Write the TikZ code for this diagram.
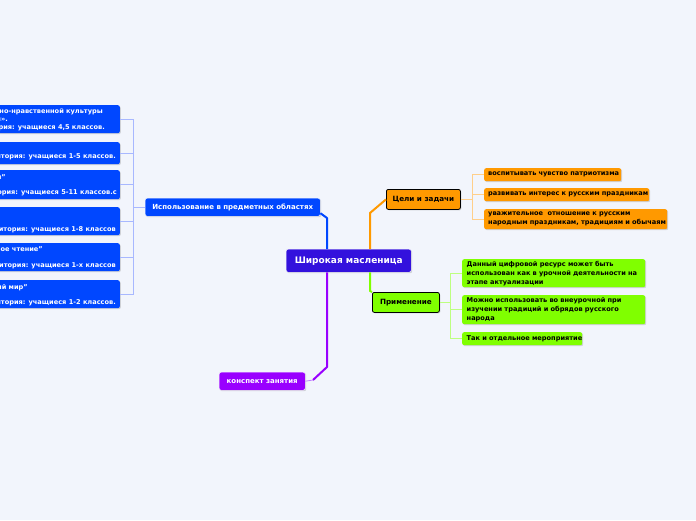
\documentclass[tikz,border=0pt]{standalone}
\usepackage{fontspec}
\setmainfont{DejaVu Sans}
\usetikzlibrary{shadows}
\newcommand\myln[1]{\mbox{#1}}
\definecolor{bgc}{HTML}{F2F5FC}
\definecolor{cmain}{HTML}{3311DD}
\definecolor{cblue}{HTML}{0047FF}
\definecolor{cblueL}{HTML}{A8B8FF}
\definecolor{corange}{HTML}{FF9900}
\definecolor{corangeL}{HTML}{FFCF8A}
\definecolor{cgreen}{HTML}{80FF00}
\definecolor{cgreenL}{HTML}{BDFF80}
\definecolor{cpurple}{HTML}{9900FF}
\definecolor{cpurpleL}{HTML}{C27FFF}
\tikzset{
  shad/.style={drop shadow={opacity=0.3,shadow xshift=1pt,shadow yshift=-1pt}},
  bx/.style={rounded corners=2pt, anchor=north west, inner ysep=0pt, inner xsep=4.5pt, align=left, shad,
    font=\bfseries\fontsize{6.6}{9}\selectfont},
  obx/.style={bx, fill=corange, inner xsep=4pt, font=\bfseries\fontsize{6.6}{9}\selectfont},
  gbx/.style={bx, fill=cgreen},
  topic/.style={rounded corners=2pt, anchor=north west, inner sep=0pt, align=center, shad,
    font=\bfseries\fontsize{7}{8}\selectfont},
  lbox/.style={rounded corners=2pt, anchor=north east, inner sep=0pt, fill=cblue, minimum width=250pt, shad},
  frag/.style={anchor=base east, inner sep=0pt, text=white, font=\bfseries\fontsize{6.6}{8}\selectfont},
  mainline/.style={line width=2pt, line join=round},
  subline/.style={line width=0.8pt},
}
\begin{document}
\begin{tikzpicture}[x=1pt,y=-1pt]
\useasboundingbox (0,0) rectangle (696,520);
\fill[bgc] (0,0) rectangle (696,520);
\clip (0,0) rectangle (696,520);

% central
\node[topic, fill=cmain, draw=white, text=white, minimum width=125pt, minimum height=23pt,
  font=\bfseries\fontsize{9}{11}\selectfont] (central) at (286,249) {Широкая масленица};

% main topics
\node[topic, fill=corange, draw=black, line width=0.8pt, minimum width=74pt, minimum height=20pt,
  font=\bfseries\fontsize{7.2}{8}\selectfont] (cel) at (386,189) {Цели и задачи};
\node[topic, fill=cgreen, draw=black, line width=0.8pt, minimum width=67pt, minimum height=20pt,
  font=\bfseries\fontsize{7.2}{8}\selectfont] (prim) at (372,292) {Применение};
\node[topic, fill=cblue, draw=white, text=white, minimum width=175pt, minimum height=18pt] (blue) at (145,198) {Использование в предметных областях};
\node[topic, fill=cpurple, draw=white, text=white, minimum width=86pt, minimum height=18pt] (purp) at (219,372) {конспект занятия};

% orange children
\node[obx, text width=129pt, minimum height=13pt] (o1) at (484,168) {\myln{воспитывать чувство патриотизма}};
\node[obx, text width=157pt, minimum height=13pt] (o2) at (484,188) {\myln{развивать интерес к русским праздникам}};
\node[obx, text width=175pt, minimum height=20pt] (o3) at (484,209) {\myln{уважительное\ \ отношение к русским}\\\myln{народным праздникам, традициям и обычаям}};

% green children
\node[gbx, text width=174pt, minimum height=28pt] (g1) at (462,259) {\myln{Данный цифровой ресурс может быть}\\\myln{использован как в урочной деятельности на}\\\myln{этапе актуализации}};
\node[gbx, text width=174pt, minimum height=29pt] (g2) at (462,295) {\myln{Можно использовать во внеурочной при}\\\myln{изучении традиций и обрядов русского}\\\myln{народа}};
\node[gbx, text width=111pt, minimum height=13pt] (g3) at (462,332) {\myln{Так и отдельное мероприятие}};

% left blue children
\node[lbox, minimum height=28pt] (b1) at (120,105) {};
\node[lbox, minimum height=22pt] (b2) at (120,142) {};
\node[lbox, minimum height=29pt] (b3) at (120,170) {};
\node[lbox, minimum height=28pt] (b4) at (120,207) {};
\node[lbox, minimum height=28pt] (b5) at (120,243) {};
\node[lbox, minimum height=28pt] (b6) at (120,280) {};

\node[frag] (b1a) at (103,113.5) {но-нравственной культуры};
\node[frag] (b1b) at (8,121.5) {и».};
\node[frag] (b1c) at (105,129.5) {ория: учащиеся 4,5 классов.};
\node[frag] (b2a) at (116,158.5) {итория: учащиеся 1-5 классов.};
\node[frag] (b3a) at (6,179.5) {ни"};
\node[frag] (b3b) at (117,194.5) {ория: учащиеся 5-11 классов.с};
\node[frag] (b4a) at (116,231.5) {дитория: учащиеся 1-8 классов};
\node[frag] (b5a) at (43,251.5) {ное чтение"};
\node[frag] (b5b) at (116,267.5) {дитория: учащиеся 1-х классов};
\node[frag] (b6a) at (28,289.5) {ий мир"};
\node[frag] (b6b) at (116,304.5) {итория: учащиеся 1-2 классов.};

% main connectors
\draw[mainline, cblue] ([yshift=-6pt]blue.east) -- (327,218) -- (central.north -| 327,0);
\draw[mainline, corange] (central.north -| 370,0) -- (370,213) -- (cel.west);
\draw[mainline, cgreen] (central.south -| 370,0) -- (370,291) -- (prim.north west);
\draw[mainline, cpurple] (central.south -| 327,0) -- (327,367) -- (313,380);
\draw[subline, cpurpleL] (313,380) -- (purp.east);

% sub connectors
\foreach \n in {o1,o2,o3} \draw[subline, corangeL] (cel.east) -- ++(12,0) |- (\n.west);
\foreach \n in {g1,g2,g3} \draw[subline, cgreenL] (prim.east) -- ++(11,0) |- (\n.west);
\foreach \n in {b1,b2,b3,b4,b5,b6} \draw[subline, cblueL] (blue.west) -- ++(-12,0) |- (\n.east);
\end{tikzpicture}
\end{document}
